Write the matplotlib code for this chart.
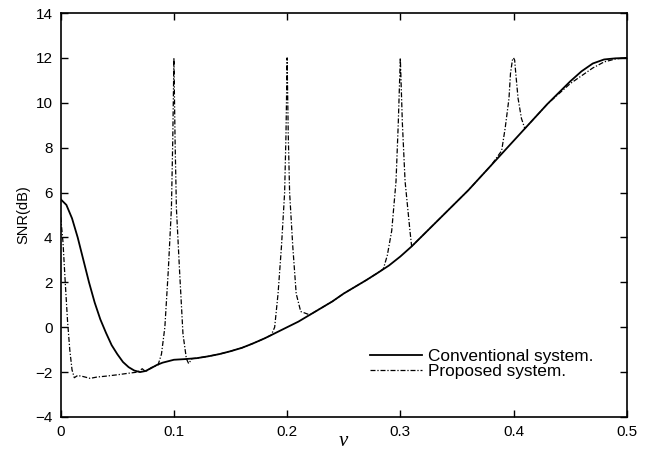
import numpy as np
from matplotlib import pyplot as plt

# conventional system
conv_v = [0.000, 0.005, 0.010, 0.015, 0.020, 0.025, 0.030, 0.035, 0.040, 0.045,
          0.050, 0.055, 0.060, 0.065, 0.070, 0.075, 0.080, 0.085, 0.090, 0.100,
          0.110, 0.120, 0.130, 0.140, 0.150, 0.160, 0.170, 0.180, 0.190, 0.200,
          0.210, 0.220, 0.230, 0.240, 0.250, 0.260, 0.270, 0.280, 0.290, 0.300,
          0.310, 0.320, 0.330, 0.340, 0.350, 0.360, 0.370, 0.380, 0.390, 0.400,
          0.410, 0.420, 0.430, 0.440, 0.450, 0.460, 0.470, 0.480, 0.490, 0.500]
conv_snr = [5.70, 5.45, 4.85, 4.00, 3.00, 2.00, 1.10, 0.35, -0.25, -0.80,
            -1.20, -1.55, -1.78, -1.93, -2.00, -1.95, -1.82, -1.68, -1.58, -1.45,
            -1.42, -1.38, -1.30, -1.20, -1.07, -0.92, -0.72, -0.50, -0.25, 0.00,
            0.25, 0.55, 0.85, 1.15, 1.50, 1.80, 2.10, 2.42, 2.75, 3.15,
            3.60, 4.10, 4.60, 5.10, 5.60, 6.10, 6.65, 7.20, 7.75, 8.30,
            8.85, 9.40, 9.95, 10.45, 10.95, 11.40, 11.75, 11.93, 11.98, 12.00]

# proposed system
prop_v = [0.000, 0.002, 0.004, 0.006, 0.008, 0.010, 0.012, 0.015, 0.020, 0.026,
          0.032, 0.040, 0.050, 0.060, 0.068, 0.072, 0.075, 0.080, 0.086,
          0.089, 0.092, 0.095, 0.0978, 0.099, 0.100, 0.101, 0.1022, 0.105, 0.108,
          0.111, 0.113, 0.116, 0.120, 0.130, 0.140, 0.150, 0.160, 0.170, 0.180,
          0.186, 0.189, 0.192, 0.195, 0.1978, 0.199, 0.200, 0.201, 0.2022, 0.205,
          0.208, 0.212, 0.220, 0.230, 0.240, 0.250, 0.260, 0.270, 0.280,
          0.285, 0.2885, 0.2924, 0.2962, 0.2982, 0.300, 0.3018, 0.3042, 0.3085,
          0.310, 0.320, 0.330, 0.340, 0.350, 0.360, 0.370, 0.380,
          0.3895, 0.3927, 0.396, 0.3973, 0.399, 0.400, 0.401, 0.402, 0.404, 0.407, 0.410,
          0.420, 0.430, 0.440, 0.450, 0.460, 0.470, 0.480, 0.490, 0.500]
prop_snr = [4.90, 3.80, 2.00, 0.30, -1.00, -1.90, -2.25, -2.15, -2.20, -2.28,
            -2.22, -2.18, -2.12, -2.05, -2.00, -1.85, -1.98, -1.80, -1.68,
            -1.20, 0.00, 2.50, 5.30, 8.40, 12.00, 8.40, 5.30, 2.50, -0.30,
            -1.40, -1.62, -1.40, -1.38, -1.30, -1.20, -1.07, -0.92, -0.72, -0.50,
            -0.35, 0.00, 1.50, 3.60, 6.00, 8.60, 12.00, 8.60, 6.00, 3.60,
            1.50, 0.70, 0.55, 0.85, 1.15, 1.50, 1.80, 2.10, 2.42,
            2.60, 3.20, 4.30, 6.50, 9.10, 12.00, 9.10, 6.50, 4.30,
            3.60, 4.10, 4.60, 5.10, 5.60, 6.10, 6.65, 7.20,
            7.86, 8.90, 10.20, 11.30, 11.90, 12.00, 11.90, 11.30, 10.20, 9.30, 8.85,
            9.40, 9.95, 10.40, 10.85, 11.20, 11.55, 11.82, 11.95, 12.00]

fig = plt.figure(figsize=(6.5, 4.53), dpi=100)
ax = fig.add_axes([0.0934, 0.0795, 0.8708, 0.8918])

ax.plot(conv_v, conv_snr, '-', color='black', lw=1.3, label='Conventional system.')
ax.plot(prop_v, prop_snr, color='black', lw=0.9, linestyle=(0, (4, 1.5, 1, 1.5)),
        label='Proposed system.')

ax.set_xlim(0, 0.5)
ax.set_ylim(-4, 14)
ax.set_xticks([0, 0.1, 0.2, 0.3, 0.4, 0.5])
ax.set_xticklabels(['0', '0.1', '0.2', '0.3', '0.4', '0.5'])
ax.set_yticks(np.arange(-4, 15, 2))

ax.tick_params(direction='in', top=True, right=True, length=5, width=1,
               labelsize=11, pad=6)
for lab in ax.get_xticklabels() + ax.get_yticklabels():
    lab.set_fontfamily('Liberation Sans')
for s in ax.spines.values():
    s.set_linewidth(1.2)

ax.set_ylabel('SNR(dB)', fontsize=10.5, fontfamily='Liberation Sans', labelpad=3)
ax.set_xlabel('ν', fontsize=15, fontfamily='Liberation Serif', style='italic',
              labelpad=-5)

ax.legend(loc='upper left', bbox_to_anchor=(0.532, 0.19), frameon=False,
          borderpad=0, handlelength=3.0, handletextpad=0.35, labelspacing=0.0,
          prop={'family': 'Liberation Sans', 'size': 12.4})

plt.savefig('out.png', dpi=100)
